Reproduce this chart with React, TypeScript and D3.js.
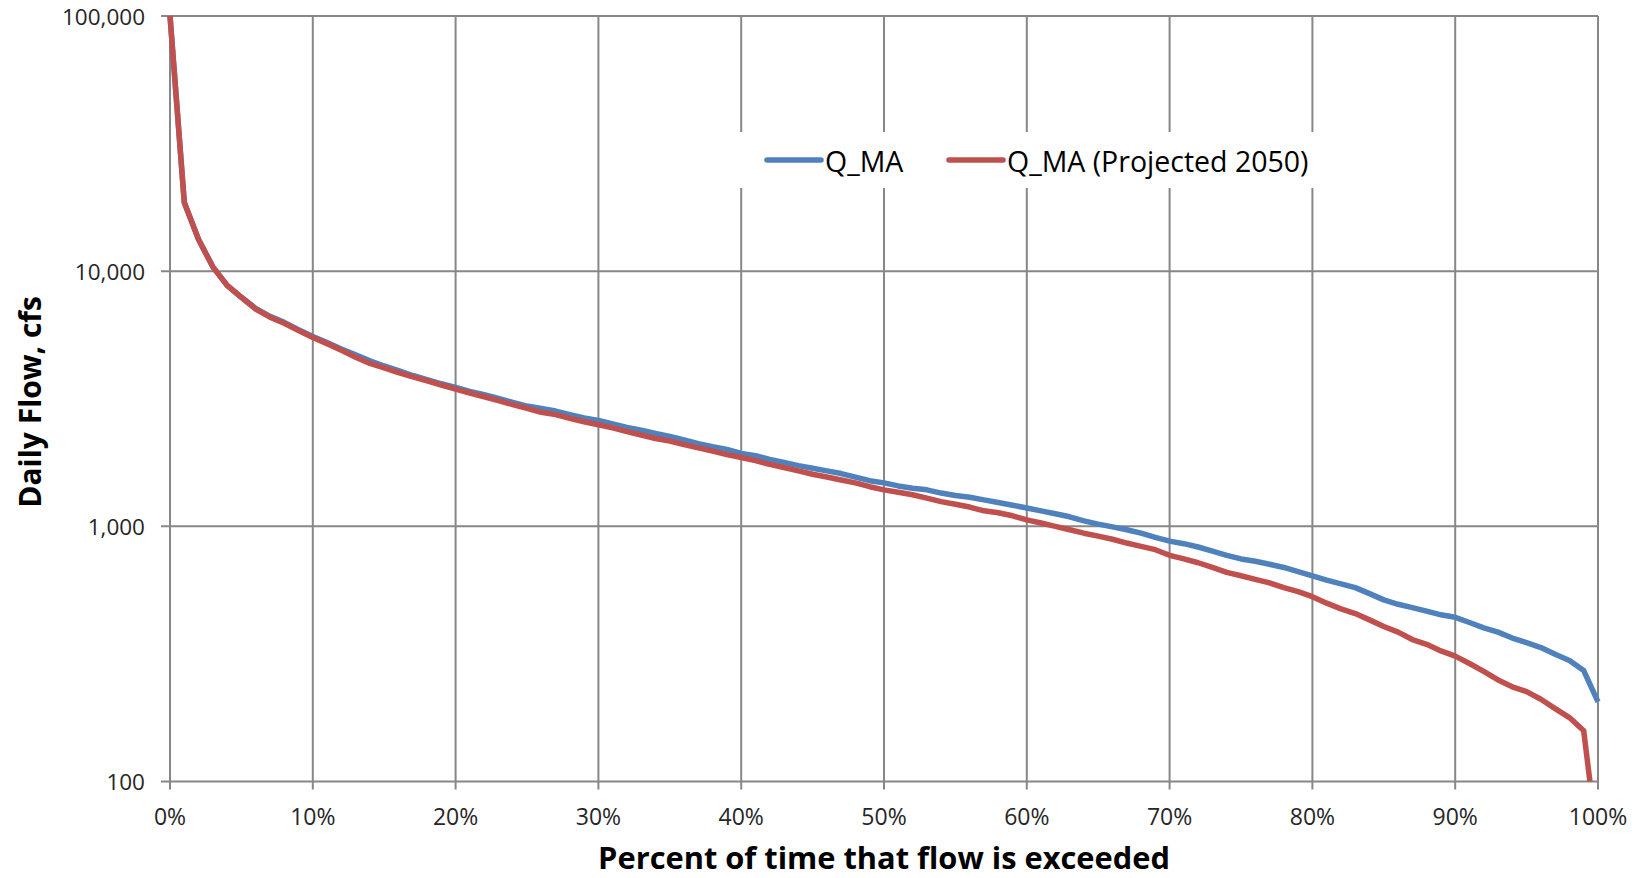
import React from "react";
import * as d3 from "d3";

// Percent of time that flow is exceeded (0..100, 1% steps)
const percents: number[] = d3.range(0, 101);

// Daily flow duration, cfs
const qMA: number[] = [
  100000, 18600, 13300, 10400, 8800, 7900, 7150, 6650, 6300, 5900,
  5550, 5250, 4950, 4700, 4450, 4250, 4080, 3900, 3760, 3620,
  3500, 3380, 3280, 3170, 3060, 2960, 2900, 2830, 2740, 2660,
  2600, 2520, 2440, 2380, 2310, 2250, 2180, 2110, 2050, 2000,
  1930, 1890, 1830, 1780, 1730, 1690, 1650, 1610, 1560, 1510,
  1480, 1440, 1410, 1390, 1350, 1320, 1300, 1270, 1240, 1210,
  1180, 1150, 1120, 1090, 1050, 1020, 995, 970, 940, 905,
  875, 855, 830, 800, 770, 745, 730, 710, 690, 665,
  640, 615, 595, 575, 545, 515, 495, 480, 465, 450,
  440, 420, 400, 385, 365, 350, 335, 315, 298, 272,
  205,
];

const qMAProjected2050: number[] = [
  100000, 18600, 13300, 10400, 8800, 7900, 7100, 6600, 6250, 5850,
  5500, 5200, 4900, 4600, 4350, 4180, 4000, 3850, 3720, 3580,
  3450, 3330, 3220, 3110, 3000, 2900, 2800, 2740, 2650, 2570,
  2500, 2430, 2350, 2280, 2210, 2160, 2090, 2030, 1970, 1910,
  1860, 1810, 1750, 1700, 1650, 1600, 1560, 1520, 1480, 1430,
  1390, 1360, 1330, 1290, 1250, 1220, 1190, 1150, 1130, 1100,
  1060, 1030, 1000, 970, 940, 915, 890, 860, 835, 810,
  770, 745, 720, 690, 660, 640, 620, 600, 575, 555,
  530, 500, 475, 455, 430, 405, 385, 360, 345, 325,
  310, 290, 270, 250, 235, 225, 210, 193, 178, 158,
  55,
];

const seriesNames: string[] = ["Q_MA", "Q_MA (Projected 2050)"];
const seriesColors: string[] = ["#4F81BD", "#C0504D"];

const yTicks: number[] = [100, 1000, 10000, 100000];
const xTicks: number[] = d3.range(0, 101, 10);

const W = 1651;
const H = 878;
const FONT = "'Open Sans', 'Noto Sans', sans-serif";
const GRID = "#878787";
const TEXT = "#262626";

export default function App() {
  const x = d3.scaleLinear().domain([0, 100]).range([170, 1598]);
  const y = d3.scaleLog().domain([100, 100000]).range([781.5, 16]);

  const [x0, x1] = x.range();
  const [yb, yt] = y.range();

  const line = d3
    .line<number>()
    .x((_, i) => x(percents[i]))
    .y((v) => y(v));

  const fmtY = d3.format(",");
  const series = [qMA, qMAProjected2050];

  return (
    <svg
      width={W}
      height={H}
      style={{ position: "absolute", left: 0, top: 0, background: "#fff" }}
    >
      <defs>
        <clipPath id="plot-clip">
          <rect x={x0 - 4} y={yt - 4} width={x1 - x0 + 8} height={yb - yt + 4} />
        </clipPath>
      </defs>
      <rect x={0} y={0} width={W} height={H} fill="#fff" />

      {/* gridlines */}
      {yTicks.map((t) => (
        <line
          key={"gy" + t}
          x1={x0 - 9}
          x2={x1}
          y1={y(t)}
          y2={y(t)}
          stroke={GRID}
          strokeWidth={2}
        />
      ))}
      {xTicks.map((t) => (
        <line
          key={"gx" + t}
          x1={x(t)}
          x2={x(t)}
          y1={yt}
          y2={yb + 8}
          stroke={GRID}
          strokeWidth={2}
        />
      ))}

      {/* y tick labels */}
      {yTicks.map((t) => (
        <text
          key={"ly" + t}
          x={145}
          y={y(t)}
          textAnchor="end"
          dominantBaseline="central"
          fontFamily={FONT}
          fontSize={22.5}
          fill={TEXT}
        >
          {fmtY(t)}
        </text>
      ))}

      {/* x tick labels */}
      {xTicks.map((t) => (
        <text
          key={"lx" + t}
          x={x(t)}
          y={816}
          textAnchor="middle"
          dominantBaseline="central"
          fontFamily={FONT}
          fontSize={23}
          fill={TEXT}
        >
          {t + "%"}
        </text>
      ))}

      {/* legend */}
      <rect x={730} y={132} width={598} height={56} fill="#fff" />
      {[
        { lx: 767, tx: 825 },
        { lx: 949, tx: 1007 },
      ].map((p, i) => (
        <g key={"leg" + i}>
          <line
            x1={p.lx}
            x2={p.lx + 54}
            y1={160}
            y2={160}
            stroke={seriesColors[i]}
            strokeWidth={5.5}
            strokeLinecap="round"
          />
          <text
            x={p.tx}
            y={161}
            dominantBaseline="central"
            fontFamily={FONT}
            fontSize={28.5}
            fill="#000"
          >
            {seriesNames[i]}
          </text>
        </g>
      ))}

      {/* series */}
      <g clipPath="url(#plot-clip)">
        {series.map((s, i) => (
          <path
            key={"s" + i}
            d={line(s) || ""}
            fill="none"
            stroke={seriesColors[i]}
            strokeWidth={5.5}
            strokeLinejoin="round"
          />
        ))}
      </g>

      {/* axis titles */}
      <text
        x={884}
        y={857}
        textAnchor="middle"
        dominantBaseline="central"
        fontFamily={FONT}
        fontWeight="bold"
        fontSize={30.8}
        fill="#000"
      >
        Percent of time that flow is exceeded
      </text>
      <text
        transform={`translate(29,402) rotate(-90)`}
        textAnchor="middle"
        dominantBaseline="central"
        fontFamily={FONT}
        fontWeight="bold"
        fontSize={30}
        fill="#000"
      >
        Daily Flow, cfs
      </text>
    </svg>
  );
}
